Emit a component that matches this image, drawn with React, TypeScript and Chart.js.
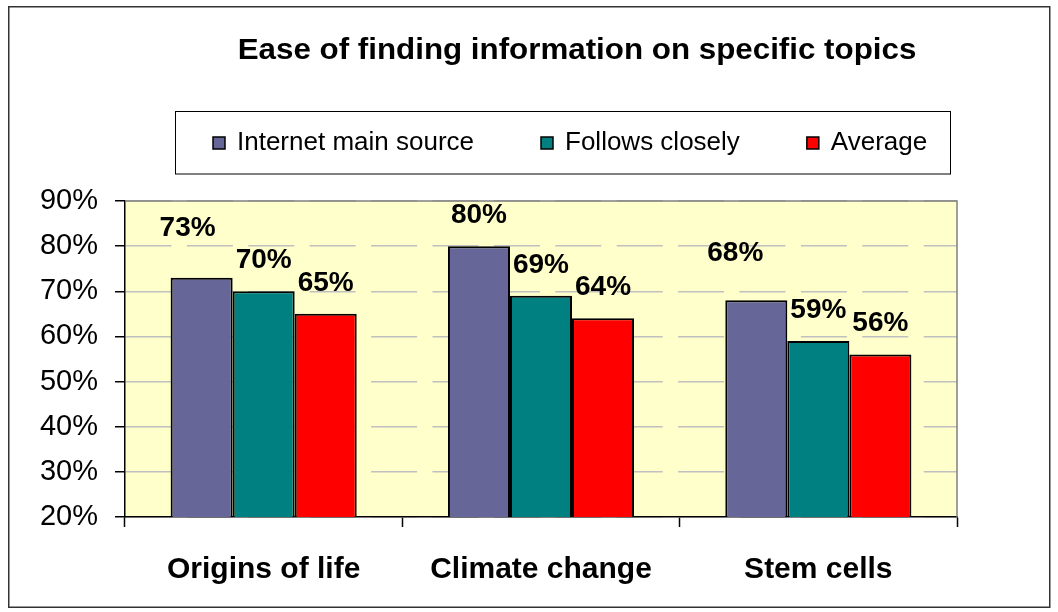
import React, { useEffect, useRef } from "react";
import { Chart, registerables } from "chart.js";

Chart.register(...registerables);

const titleText = "Ease of finding information on specific topics";
const categories = ["Origins of life", "Climate change", "Stem cells"];
const seriesNames = ["Internet main source", "Follows closely", "Average"];
const internetMain = [73, 80, 68];
const followsClosely = [70, 69, 59];
const average = [65, 64, 56];
const seriesColors = ["#666699", "#008080", "#FF0000"];
const yMin = 20;
const yMax = 90;
const yStep = 10;

const FONT = "Arial, 'Liberation Sans', sans-serif";

// per-label nudges [dx, dy] (dataset, point) for Excel-like placement
const LABEL_NUDGE: number[][][] = [
  [[-14, -18], [0, 0], [-21, -16]],
  [[0, 0], [0, 0], [0, 0]],
  [[0, 0], [0, 0], [0, 0]],
];

const decorPlugin = {
  id: "decor",
  beforeDraw(chart: any) {
    const { ctx, chartArea: a, width, height } = chart;
    ctx.save();
    ctx.fillStyle = "#FFFFFF";
    ctx.fillRect(0, 0, width, height);
    ctx.fillStyle = "#FFFFCC";
    ctx.fillRect(a.left, a.top, a.right - a.left, a.bottom - a.top);
    ctx.strokeStyle = "#333333";
    ctx.lineWidth = 1.5;
    ctx.strokeRect(8.75, 6.75, 1041, 600.5);
    ctx.restore();
  },
  beforeDatasetsDraw(chart: any) {
    const { ctx, chartArea: a } = chart;
    ctx.save();
    ctx.strokeStyle = "#808080";
    ctx.lineWidth = 1.5;
    ctx.beginPath();
    ctx.moveTo(a.left, a.top);
    ctx.lineTo(a.right, a.top);
    ctx.lineTo(a.right, a.bottom);
    ctx.stroke();
    ctx.restore();
  },
  afterDatasetsDraw(chart: any) {
    const { ctx } = chart;
    ctx.save();
    ctx.font = `bold 28px ${FONT}`;
    ctx.fillStyle = "#000000";
    ctx.textAlign = "center";
    ctx.textBaseline = "middle";
    chart.data.datasets.forEach((ds: any, di: number) => {
      const meta = chart.getDatasetMeta(di);
      meta.data.forEach((el: any, i: number) => {
        const n = (LABEL_NUDGE[di] && LABEL_NUDGE[di][i]) || [0, 0];
        ctx.fillText(`${ds.data[i]}%`, el.x + n[0], el.y - 31 + n[1]);
      });
    });
    ctx.restore();
  },
  afterDraw(chart: any) {
    const { ctx } = chart;
    ctx.save();
    // title
    ctx.fillStyle = "#000000";
    ctx.font = `bold 29px ${FONT}`;
    ctx.textAlign = "center";
    ctx.textBaseline = "alphabetic";
    ctx.translate(577, 58.5);
    ctx.scale(1.08, 1);
    ctx.fillText(titleText, 0, 0);
    ctx.setTransform(1, 0, 0, 1, 0, 0);
    // legend box
    ctx.strokeStyle = "#000000";
    ctx.lineWidth = 1;
    ctx.strokeRect(175.5, 111.5, 775, 62.5);
    ctx.font = `26px ${FONT}`;
    ctx.textAlign = "left";
    let x = 213;
    chart.data.datasets.forEach((ds: any) => {
      ctx.fillStyle = ds.backgroundColor;
      ctx.fillRect(x, 137, 12, 12);
      ctx.strokeStyle = "#000000";
      ctx.lineWidth = 1.5;
      ctx.strokeRect(x, 137, 12, 12);
      ctx.fillStyle = "#000000";
      ctx.fillText(ds.label, x + 24, 149.5);
      const w = ctx.measureText(ds.label).width;
      x += 24 + w + 67;
    });
    ctx.restore();
  },
};

export default function App() {
  const ref = useRef<HTMLCanvasElement | null>(null);

  useEffect(() => {
    if (!ref.current) return;
    const values = [internetMain, followsClosely, average];
    const chart = new Chart(ref.current, {
      type: "bar",
      data: {
        labels: categories,
        datasets: seriesNames.map((name, i) => ({
          label: name,
          data: values[i],
          backgroundColor: seriesColors[i],
          borderColor: "#000000",
          borderWidth: 2,
          barPercentage: 1.0,
          categoryPercentage: 0.671,
        })),
      },
      options: {
        responsive: false,
        animation: false,
        devicePixelRatio: 1,
        layout: { padding: { top: 201, right: 101, left: 0, bottom: 0 } },
        plugins: {
          legend: { display: false },
          title: { display: false },
          tooltip: { enabled: false },
        },
        scales: {
          x: {
            offset: true,
            grid: {
              display: true,
              offset: true,
              drawOnChartArea: false,
              drawTicks: true,
              tickLength: 10,
              tickColor: "#000000",
              tickWidth: 1.5,
            },
            border: { display: true, color: "#000000", width: 1.5 },
            ticks: {
              color: "#000000",
              padding: 25,
              font: { family: FONT, size: 30, weight: "bold" },
              maxRotation: 0,
            },
            afterFit(scale: any) {
              scale.height = 95;
            },
          },
          y: {
            min: yMin,
            max: yMax,
            ticks: {
              stepSize: yStep,
              color: "#000000",
              padding: 17,
              font: { family: FONT, size: 29 },
              callback: (v: any) => `${v}%`,
            },
            grid: {
              color: "#C0C0C0",
              lineWidth: 1.5,
              drawTicks: true,
              tickLength: 10,
              tickColor: "#000000",
              tickWidth: 1.5,
            },
            border: { display: true, color: "#000000", width: 1.5, dash: [46, 15.4], dashOffset: 0 },
            afterFit(scale: any) {
              scale.width = 125;
            },
          },
        },
      },
      plugins: [decorPlugin],
    } as any);
    return () => chart.destroy();
  }, []);

  return (
    <div style={{ position: "absolute", left: 0, top: 0, width: 1058, height: 612 }}>
      <canvas ref={ref} width={1058} height={612} style={{ display: "block" }} />
    </div>
  );
}
